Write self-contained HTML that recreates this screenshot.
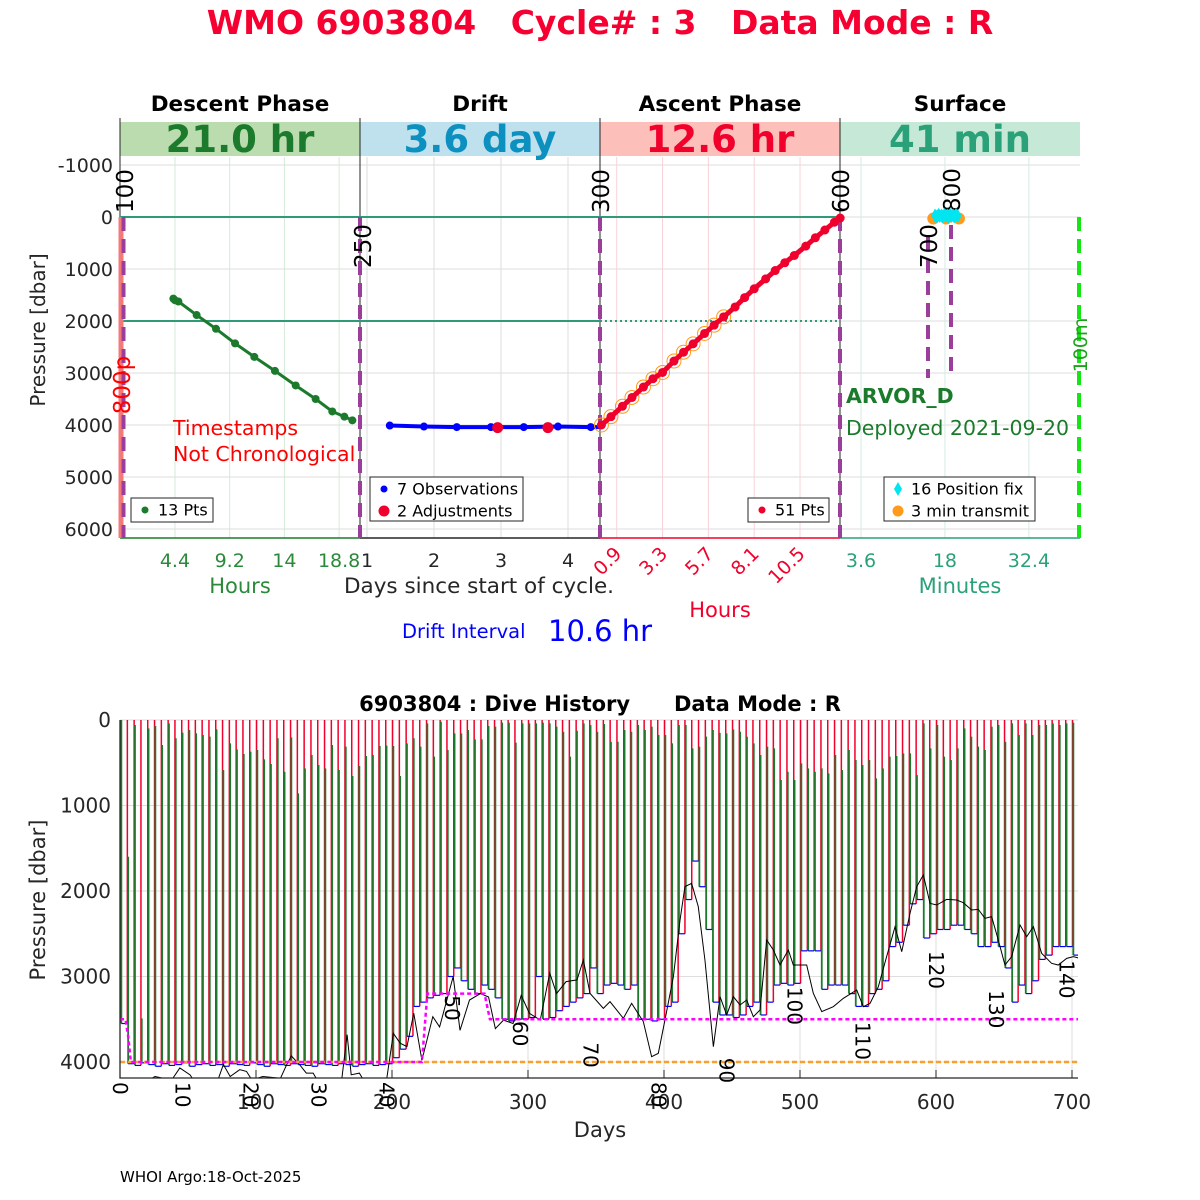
<!DOCTYPE html>
<html><head><meta charset="utf-8">
<style>
html,body{margin:0;padding:0;background:#fff;}
svg{display:block;font-family:"DejaVu Sans","Liberation Sans",sans-serif;}
</style></head>
<body>
<svg id="chart" width="1200" height="1200" viewBox="0 0 1200 1200" xmlns="http://www.w3.org/2000/svg">
<defs>
<clipPath id="clipTop"><rect x="120" y="157" width="960" height="381"/></clipPath>
<clipPath id="clipBot"><rect x="120" y="720" width="958" height="358"/></clipPath>
</defs>
<text x="600" y="34" text-anchor="middle" font-size="33" font-weight="bold" fill="#f50031">WMO 6903804&#160;&#160;&#160;Cycle# : 3&#160;&#160;&#160;Data Mode : R</text>
<g id="topPanel"></g>
<g id="botPanel"></g>
<text x="120" y="1182" font-size="15" fill="#000">WHOI Argo:18-Oct-2025</text>
</svg>
<script>
// ---------- TOP PANEL DATA ----------
const yTickValsTop = [-1000,0,1000,2000,3000,4000,5000,6000];
const descentHours = [4.26,4.7,6.3,8.0,9.67,11.36,13.17,14.99,16.74,18.2,19.26,19.96,4.4];
const descentPres  = [1570,1625,1885,2150,2430,2690,2960,3240,3500,3740,3840,3910,1600];
const descentTicks = [4.4,9.2,14,18.8];
const driftDays = [1.34,1.85,2.34,2.85,3.34,3.85,4.34];
const driftPres = [4010,4030,4040,4040,4040,4030,4040];
const adjDays = [2.95,3.70];
const adjPres = [4050,4050];
const driftTicks = [1,2,3,4];
const ascentHours = [0.1,0.6,1.2,1.7,2.3,2.8,3.3,3.9,4.4,4.9,5.5,6.0,6.5,7.1,7.6,8.1,8.7,9.2,9.7,10.2,10.8,11.3,11.8,12.3,12.6];
const ascentPres  = [4000,3840,3640,3470,3270,3110,2990,2770,2600,2440,2240,2080,1920,1730,1550,1380,1190,1030,880,740,560,400,250,100,20];
const ascentTicks = ["0.9","3.3","5.7","8.1","10.5"];
const fixMinutes = [16.3,16.6,16.9,17.1,17.4,17.6,17.9,18.1,18.4,18.6,18.9,19.1,19.4,19.6,19.9,20.2];
const fixPres = [-30,-10,-40,-20,-30,-10,-40,-20,-30,-10,-40,-20,-30,-10,-40,-20];
const transMinutes = [16.0,18.2,20.4];
const transPres = [30,30,30];
const surfaceTicks = [3.6,18,32.4];

// ---------- BOTTOM PANEL DATA ----------
const yTickValsBot = [0,1000,2000,3000,4000];
const xTickValsBot = [0,100,200,300,400,500,600,700];
const cycleDays = [1,6,11,16,21,26,31,36,41,46,51,56,61,66,71,76,81,86,91,96,101,106,111,116,121,126,131,136,141,146,151,156,161,166,171,176,181,186,191,196,201,206,211,216,221,226,231,236,241,246,251,256,261,266,271,276,281,286,291,296,301,306,311,316,321,326,331,336,341,346,351,356,361,366,371,376,381,386,391,396,401,406,411,416,421,426,431,436,441,446,451,456,461,466,471,476,481,486,491,496,501,506,511,516,521,526,531,536,541,546,551,556,561,566,571,576,581,586,591,596,601,606,611,616,621,626,631,636,641,646,651,656,661,666,671,676,681,686,691,696,701];
const greenTop = [0,1600,58,3490,98,70,292,39,214,148,117,156,175,195,109,585,273,343,398,370,351,460,515,214,605,203,858,566,409,527,566,292,585,312,655,538,421,409,304,300,304,655,273,214,312,39,429,20,351,156,156,117,226,226,70,78,31,31,265,39,39,39,31,39,78,137,429,125,39,60,137,47,254,254,117,137,58,117,78,175,175,273,58,58,332,312,195,117,150,156,109,137,195,273,409,312,332,702,605,702,507,566,605,566,624,409,585,351,468,527,468,683,566,429,421,390,390,644,39,332,58,429,468,332,98,195,312,351,78,58,254,39,175,39,175,58,58,39,58,39,31];
const driftBottom = [3550,4020,4040,4010,4030,4050,4020,4040,4030,4010,4050,4030,4020,4040,4030,4050,4020,4030,4040,4010,4030,4050,4020,4030,4040,4020,4030,4040,4050,4020,4030,4040,4020,4030,4050,4030,4020,4040,4030,4020,3950,3850,3700,3350,3300,3250,3220,3200,3000,2900,3050,3150,3200,3100,3150,3250,3500,3520,3500,3500,3480,3000,3500,3480,3400,3350,3300,3250,3200,2900,3200,3100,3080,3100,3150,3100,3500,3500,3520,3500,3350,3300,2500,2100,1650,1950,2450,3300,3450,3450,3480,3450,3350,3300,3450,3300,3100,3080,3100,3080,2700,2700,2700,3150,3100,3100,3100,3200,3350,3350,3200,3150,3050,2650,2600,2400,2150,2100,2550,2500,2450,2450,2400,2400,2450,2500,2650,2650,2600,2650,2900,3300,3100,3200,3050,2800,2750,2650,2650,2650,2750];
const bathyDays = [0,25.7,38,44,51.5,54,72,76,81,88,93,97,105,118,122.6,126,132,137,142,145,163,167,170,176,179,194,196,201,206,211,216,222,230,235,245,250,257,265,271,276,282,289,295,301,309,316,321,328,336,340.7,345.6,355.4,360.3,370.1,376.2,384.8,390.9,395.8,400.7,406.9,411.8,415.4,420.3,425.2,430.1,436.3,441.2,446.1,451.0,455.9,460.8,465.7,470.6,475.5,480.4,485.3,491.4,495.1,504.9,509.8,516.0,524.5,531.9,541.7,546.6,551.5,557.6,563.7,569.9,574.8,580.9,585.8,590.7,595.6,600.5,607.8,615.2,620.1,626.2,631.1,636.0,640.9,645.8,650.7,655.6,661.8,666.7,671.6,677.7,685.0,689.9,696.1,701.0,705.9];
const bathyPres = [4400,4170,4210,4070,4150,4210,4210,4030,4170,4090,4110,4210,4170,4190,4030,3930,4030,4130,4130,4210,4210,3680,4150,4130,4210,4210,4210,3665,3780,3820,3430,3980,3470,3590,3000,3630,3275,3200,3240,3610,3510,3550,3220,3430,3510,2960,3200,3060,3040,2807,3197,3373,3294,3489,3314,3528,3938,3899,3509,3002,2339,1949,1910,2183,2807,3821,3236,3450,3236,3333,3275,3470,3392,2573,2690,2866,2690,2866,2866,3197,3411,3353,3255,3158,3353,3314,3119,2768,2417,2710,2261,1949,1813,2144,2164,2098,2105,2137,2222,2215,2320,2300,2573,2866,2768,2398,2534,2417,2729,2846,2866,2788,2768,2788];
const parkDays = [0,4,6,8,222,224,226,268,272,706];
const parkPres = [3500,3500,3700,4000,4000,3600,3200,3200,3500,3500];
const cycleLabels = ["0","10","20","30","40","50","60","70","80","90","100","110","120","130","140"];
const cycleLabelDays = [0,46,96,146,196,244,294,346,396,446,496,546,600,644,696];
const cycleLabelPres = [4300,4280,4300,4330,4300,3220,3520,3770,4300,3950,3120,3530,2700,3160,2810];

// ---------- helpers ----------
const NS = "http://www.w3.org/2000/svg";
function mk(parent, tag, attrs, text){
  const e = document.createElementNS(NS, tag);
  for (const k in attrs) e.setAttribute(k, attrs[k]);
  if (text !== undefined) e.textContent = text;
  parent.appendChild(e);
  return e;
}
const topG = document.getElementById('topPanel');
const botG = document.getElementById('botPanel');

const yT = p => 217 + p * 0.052;
const xDesc = h => 124.8 + h * 11.4;
const xDrift = d => 367 + (d - 1) * 67;
const xAsc = h => 599.5 + h * 19.1;
const xSurf = m => 840 + m * 5.83;

const phases = [
  {x:120, name:"Descent Phase", val:"21.0 hr", band:"#badcaf", col:"#1b7a2b", key:"descent"},
  {x:360, name:"Drift", val:"3.6 day", band:"#bfe1ed", col:"#0b90c0", key:"drift"},
  {x:600, name:"Ascent Phase", val:"12.6 hr", band:"#fcbfba", col:"#f2002c", key:"ascent"},
  {x:840, name:"Surface", val:"41 min", band:"#c6e9d7", col:"#2aa178", key:"surface"}
];
phases.forEach(ph => {
  let t = mk(topG,'text',{x:ph.x+120,y:111,'text-anchor':'middle','font-size':21.5,'font-weight':'bold',fill:'#000'},ph.name);
  
  
  let r = mk(topG,'rect',{x:ph.x,y:122,width:240,height:34,fill:ph.band});
  
  
  let v = mk(topG,'text',{x:ph.x+120,y:152,'text-anchor':'middle','font-size':37,'font-weight':'bold',fill:ph.col},ph.val);
  
  
});

yTickValsTop.forEach(p => {
  let g = mk(topG,'line',{x1:120,x2:1080,y1:yT(p),y2:yT(p),stroke:'#dedede','stroke-width':1});
  
  
  let t = mk(topG,'text',{x:113,y:yT(p)+7,'text-anchor':'end','font-size':19,fill:'#262626'},String(p));
  
  
});
descentTicks.forEach(h => {
  let g = mk(topG,'line',{x1:xDesc(h),x2:xDesc(h),y1:157,y2:538,stroke:'#d4ead8','stroke-width':1});
  
  
  let t = mk(topG,'text',{x:xDesc(h),y:567,'text-anchor':'middle','font-size':19,fill:'#2a8a3a'},String(h));
  
  
});
driftTicks.forEach(d => {
  let g = mk(topG,'line',{x1:xDrift(d),x2:xDrift(d),y1:157,y2:538,stroke:'#dedede','stroke-width':1});
  
  
  let t = mk(topG,'text',{x:xDrift(d),y:567,'text-anchor':'middle','font-size':19,fill:'#262626'},String(d));
  
  
});
ascentTicks.forEach(s => {
  const x = xAsc(parseFloat(s));
  let g = mk(topG,'line',{x1:x,x2:x,y1:157,y2:538,stroke:'#f8d3d8','stroke-width':1});
  
  
  let t = mk(topG,'text',{x:x+6,y:555,'text-anchor':'end','font-size':19,fill:'#f2002c',transform:`rotate(-45 ${x+6} 555)`},s);
  
  
});
surfaceTicks.forEach(m => {
  let g = mk(topG,'line',{x1:xSurf(m),x2:xSurf(m),y1:157,y2:538,stroke:'#d4ebe2','stroke-width':1});
  
  
  let t = mk(topG,'text',{x:xSurf(m),y:567,'text-anchor':'middle','font-size':19,fill:'#2aa178'},String(m));
  
  
});
[[120,'#1b7a2b'],[360,'#262626'],[600,'#f2002c'],[840,'#2aa178']].forEach(a => {
  let l = mk(topG,'line',{x1:a[0],x2:a[0]+240,y1:538,y2:538,stroke:a[1],'stroke-width':1.5});
  
  
  let v = mk(topG,'line',{x1:a[0],x2:a[0],y1:118,y2:538,stroke:'#262626','stroke-width':1});
  
  
});
let l0 = mk(topG,'line',{x1:120,x2:840,y1:yT(0),y2:yT(0),stroke:'#2e9a78','stroke-width':2});


let l2 = mk(topG,'line',{x1:120,x2:600,y1:yT(2000),y2:yT(2000),stroke:'#2e9a78','stroke-width':2});


let l2d = mk(topG,'line',{x1:600,x2:840,y1:yT(2000),y2:yT(2000),stroke:'#2e9a78','stroke-width':2,'stroke-dasharray':'2 3'});



let rs = mk(topG,'line',{x1:121,x2:121,y1:217,y2:538,stroke:'#f47a7a','stroke-width':5});


const markers = [[123.5,217,538],[360,217,538],[600,217,538],[840,217,538],[928,237,378],[951,225,378]];
markers.forEach(m => {
  let d = mk(topG,'line',{x1:m[0],x2:m[0],y1:m[1],y2:m[2],stroke:'#9b3d9b','stroke-width':4,'stroke-dasharray':'14 8'});
  
  
});
let gd = mk(topG,'line',{x1:1079,x2:1079,y1:217,y2:538,stroke:'#14e614','stroke-width':4,'stroke-dasharray':'14 8'});


const rlabels = [["100",133,213,'#000'],["250",371,268,'#000'],["300",609,213,'#000'],["600",849,213,'#000'],["700",937,268,'#000'],["800",960,212,'#000']];
rlabels.forEach(r => {
  let t = mk(topG,'text',{x:r[1],y:r[2],'font-size':23,fill:r[3],transform:`rotate(-90 ${r[1]} ${r[2]})`},r[0]);
  
  
});
let t800 = mk(topG,'text',{x:130,y:385,'text-anchor':'middle','font-size':23,fill:'#f00',transform:'rotate(-90 130 385)'},'800p');


let t100m = mk(topG,'text',{x:1087,y:345,'text-anchor':'middle','font-size':19,fill:'#1aa31a',transform:'rotate(-90 1087 345)'},'100m');



const dg = mk(topG,'g',{'clip-path':'url(#clipTop)'});


const dOrder = descentHours.map((h,i)=>i).sort((a,b)=>descentHours[a]-descentHours[b]);
mk(dg,'polyline',{points:dOrder.map(i=>xDesc(descentHours[i])+','+yT(descentPres[i])).join(' '),fill:'none',stroke:'#1b7a2b','stroke-width':3});
descentHours.forEach((h,i)=>{
  let c = mk(dg,'circle',{cx:xDesc(h),cy:yT(descentPres[i]),r:4,fill:'#1b7a2b'});
  
  
});
const drg = mk(topG,'g',{});


const driftPts = driftDays.map((d,i)=>xDrift(d)+','+yT(driftPres[i]));
driftPts.push('600,' + yT(driftPres[driftPres.length-1]));
mk(drg,'polyline',{points:driftPts.join(' '),fill:'none',stroke:'#0000ff','stroke-width':4});
driftDays.forEach((d,i)=>{
  let c = mk(drg,'circle',{cx:xDrift(d),cy:yT(driftPres[i]),r:4,fill:'#0000ff'});
  
  
});
adjDays.forEach((d,i)=>{
  let c = mk(drg,'circle',{cx:xDrift(d),cy:yT(adjPres[i]),r:5.5,fill:'#f0002c'});
  
  
});
const ag = mk(topG,'g',{});


ascentHours.forEach((h,i)=>{
  if (ascentPres[i] > 1900) {
    let o = mk(ag,'circle',{cx:xAsc(h),cy:yT(ascentPres[i]),r:7,fill:'none',stroke:'#ff9a1a','stroke-width':1});
    
    
  }
});
mk(ag,'polyline',{points:ascentHours.map((h,i)=>xAsc(h)+','+yT(ascentPres[i])).join(' '),fill:'none',stroke:'#f0002c','stroke-width':5});
ascentHours.forEach((h,i)=>{
  let c = mk(ag,'circle',{cx:xAsc(h),cy:yT(ascentPres[i]),r:4.5,fill:'#f0002c'});
  
  
});
transMinutes.forEach((m,i)=>{
  let c = mk(topG,'circle',{cx:xSurf(m),cy:yT(transPres[i]),r:6,fill:'#ff9a1a'});
  
  
});
let tb = mk(topG,'rect',{x:xSurf(16),y:yT(0)-4,width:xSurf(20.4)-xSurf(16),height:8,fill:'#ff9a1a'});


fixMinutes.forEach((m,i)=>{
  const x = xSurf(m), y = yT(fixPres[i]);
  let p = mk(topG,'polygon',{points:`${x},${y-7} ${x+4},${y} ${x},${y+7} ${x-4},${y}`,fill:'#00e5f0'});
  
  
});

function txt(parent,x,y,s,size,fill,extra){
  const a = Object.assign({x:x,y:y,'font-size':size,fill:fill},extra||{});
  return mk(parent,'text',a,s);
}
let a1 = txt(topG,173,435,'Timestamps',20.5,'#f00');


let a2 = txt(topG,173,461,'Not Chronological',20.5,'#f00');


let a3 = txt(topG,846,403,'ARVOR_D',20.5,'#1b7a2b',{'font-weight':'bold'});


let a4 = txt(topG,846,435,'Deployed 2021-09-20',20.5,'#1b7a2b');


let a5 = txt(topG,240,593,'Hours',21,'#2a8a3a',{'text-anchor':'middle'});


let a6 = txt(topG,479,593,'Days since start of cycle.',21.5,'#262626',{'text-anchor':'middle'});


let a7 = txt(topG,720,617,'Hours',21,'#f2002c',{'text-anchor':'middle'});


let a8 = txt(topG,960,593,'Minutes',21,'#2aa178',{'text-anchor':'middle'});


let a9 = txt(topG,402,638,'Drift Interval',19.5,'#0000ff');


let a10 = txt(topG,548,641,'10.6 hr',29,'#0000ff');


let a11 = txt(topG,45,330,'Pressure [dbar]',20,'#262626',{'text-anchor':'middle',transform:'rotate(-90 45 330)'});



function legend(name,x,y,w,h,items){
  const g = mk(topG,'g',{});
  
  
  mk(g,'rect',{x:x,y:y,width:w,height:h,fill:'#fff',stroke:'#262626','stroke-width':1});
  items.forEach((it,i)=>{
    const cy = y + 12 + i*22;
    if (it.shape==='diamond') mk(g,'polygon',{points:`${x+14},${cy-7} ${x+18},${cy} ${x+14},${cy+7} ${x+10},${cy}`,fill:it.c});
    else mk(g,'circle',{cx:x+14,cy:cy,r:it.r,fill:it.c});
    const t = mk(g,'text',{x:x+27,y:cy+5.5,'font-size':16,fill:'#000'},it.t);
    
    
  });
}
legend('descent-legend',131,498,82,24,[{c:'#1b7a2b',r:3.5,t:'13 Pts'}]);
legend('drift-legend',370,477,153,44,[{c:'#0000ff',r:3.5,t:'7 Observations'},{c:'#f0002c',r:5.5,t:'2 Adjustments'}]);
legend('ascent-legend',748,498,81,24,[{c:'#f0002c',r:3.5,t:'51 Pts'}]);
legend('surface-legend',884,477,151,44,[{c:'#00e5f0',shape:'diamond',t:'16 Position fix'},{c:'#ff9a1a',r:5.5,t:'3 min transmit'}]);

// ---------- BOTTOM PANEL ----------
const xB = d => 120 + d * 1.36;
const yB = p => 720 + p * 0.0855;

let bt = mk(botG,'text',{x:600,y:711,'text-anchor':'middle','font-size':21,'font-weight':'bold',fill:'#000'},'6903804 : Dive History\u00a0\u00a0\u00a0\u00a0\u00a0\u00a0Data Mode : R');


yTickValsBot.forEach(p=>{
  let g = mk(botG,'line',{x1:120,x2:1078,y1:yB(p),y2:yB(p),stroke:'#dedede','stroke-width':1});
  
  
  let t = mk(botG,'text',{x:111,y:yB(p)+7,'text-anchor':'end','font-size':20,fill:'#262626'},String(p));
  
  
});
xTickValsBot.forEach(d=>{
  let g = mk(botG,'line',{x1:xB(d),x2:xB(d),y1:720,y2:1078,stroke:'#dedede','stroke-width':1});
  
  
  let tk = mk(botG,'line',{x1:xB(d),x2:xB(d),y1:1070,y2:1078,stroke:'#262626','stroke-width':1});
  
  
  if (d>0) {
    let t = mk(botG,'text',{x:xB(d),y:1109,'text-anchor':'middle','font-size':20,fill:'#262626'},String(d));
    
    
  }
});
const pg = mk(botG,'g',{'clip-path':'url(#clipBot)'});


cycleDays.forEach((d,i)=>{
  let g = mk(pg,'line',{x1:xB(d),x2:xB(d),y1:yB(greenTop[i]),y2:yB(driftBottom[i]),stroke:'#1b7a2b','stroke-width':1.8});
  
  
  let r = mk(pg,'line',{x1:xB(d+4.4),x2:xB(d+4.4),y1:yB(0),y2:yB(driftBottom[i]),stroke:'#f0002c','stroke-width':1.5});
  
  
});
cycleDays.forEach((d,i)=>{
  let b = mk(pg,'line',{x1:xB(d),x2:xB(d+4.4),y1:yB(driftBottom[i]),y2:yB(driftBottom[i]),stroke:'#0000ff','stroke-width':1.2});
  
  
});
let bk = mk(pg,'polyline',{points:bathyDays.map((d,i)=>xB(d)+','+yB(bathyPres[i])).join(' '),fill:'none',stroke:'#000','stroke-width':1});


let od = mk(pg,'line',{x1:120,x2:1078,y1:yB(4000),y2:yB(4000),stroke:'#f5a030','stroke-width':2.5,'stroke-dasharray':'5 3'});


let pk = mk(pg,'polyline',{points:parkDays.map((d,i)=>xB(d)+','+yB(parkPres[i])).join(' '),fill:'none',stroke:'#ff00ff','stroke-width':2.5,'stroke-dasharray':'4 3'});


let ax1 = mk(botG,'polyline',{points:'120,720 120,1078 1078,1078',fill:'none',stroke:'#262626','stroke-width':1.3});


cycleLabels.forEach((s,i)=>{
  const x = xB(cycleLabelDays[i]) - 7, y = Math.min(yB(cycleLabelPres[i]), 1082);
  let t = mk(botG,'text',{x:x,y:y,'font-size':20,fill:'#000',transform:`rotate(90 ${x} ${y})`},s);
  
  
});
let xt = mk(botG,'text',{x:600,y:1137,'text-anchor':'middle','font-size':21,fill:'#262626'},'Days');


let yt = mk(botG,'text',{x:45,y:900,'text-anchor':'middle','font-size':21,fill:'#262626',transform:'rotate(-90 45 900)'},'Pressure [dbar]');


</script>
</body></html>
